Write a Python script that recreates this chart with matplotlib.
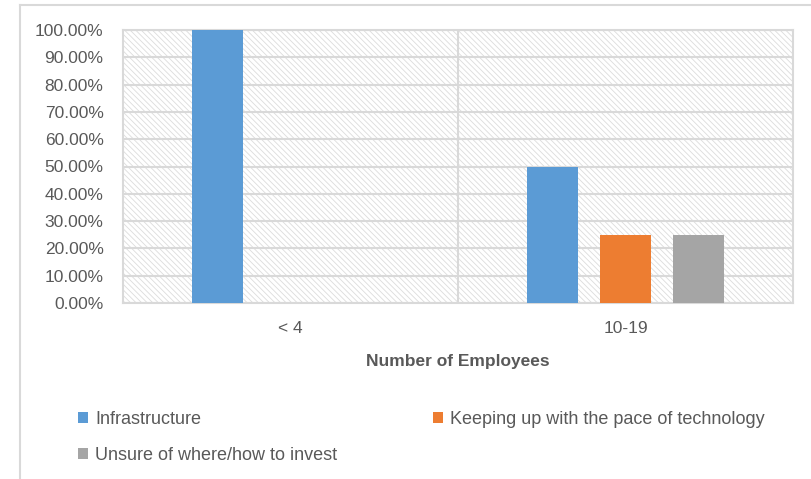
import numpy as np
import matplotlib.pyplot as plt
from matplotlib.patches import Rectangle
from matplotlib.lines import Line2D
from matplotlib.ticker import FixedLocator, FuncFormatter

plt.rcParams['font.family'] = ['Liberation Sans', 'DejaVu Sans']
plt.rcParams['hatch.linewidth'] = 0.6

# data
categories = ['< 4', '10-19']
series_names = ['Infrastructure', 'Keeping up with the pace of technology',
                'Unsure of where/how to invest']
infrastructure = [1.00, 0.50]
keeping_up = [0.00, 0.25]
unsure = [0.00, 0.25]
y_ticks = [0.0, 0.1, 0.2, 0.3, 0.4, 0.5, 0.6, 0.7, 0.8, 0.9, 1.0]

colors = ['#5B9BD5', '#ED7D31', '#A5A5A5']
grid_col = '#d9d9d9'
text_col = '#595959'

W, H = 812, 479
fig = plt.figure(figsize=(W / 100, H / 100), dpi=100)
ax = fig.add_axes([123 / W, 1 - 303 / H, (793 - 123) / W, (303 - 30) / H])

# hatched plot area
ax.add_patch(Rectangle((0, 0), 1, 1, transform=ax.transAxes,
                       facecolor='white', edgecolor='#dcdcdc', hatch='\\' * 6,
                       linewidth=0, zorder=0))

x = np.arange(len(categories))
width = 0.155
offset = 0.218
values = [infrastructure, keeping_up, unsure]
for i, (vals, c) in enumerate(zip(values, colors)):
    ax.bar(x + (i - 1) * offset, vals, width, color=c, zorder=3,
           label=series_names[i])

ax.set_xlim(-0.5, 1.5)
ax.set_ylim(0, 1)
ax.set_xticks(x)
ax.set_xticklabels(categories)
ax.xaxis.set_minor_locator(FixedLocator([0.5]))
ax.set_yticks(y_ticks)
ax.yaxis.set_major_formatter(FuncFormatter(lambda v, p: '{:.2f}%'.format(v * 100)))
ax.grid(axis='y', color=grid_col, linewidth=1.5, zorder=1)
ax.grid(axis='x', which='minor', color=grid_col, linewidth=1.5, zorder=1)
ax.set_axisbelow(True)
ax.tick_params(axis='both', which='both', length=0, colors=text_col,
               labelsize=12.5)
ax.tick_params(axis='x', pad=13)
ax.tick_params(axis='y', pad=14)
for s in ax.spines.values():
    s.set_color(grid_col)
    s.set_linewidth(1.5)

ax.set_xlabel('Number of Employees', fontsize=12.5, fontweight='bold',
              color=text_col, labelpad=13)

# legend, row-major order
handles, labels = ax.get_legend_handles_labels()
order = [0, 2, 1]
fig.legend([handles[k] for k in order], [labels[k] for k in order],
           ncol=2, loc='upper left', bbox_to_anchor=(71 / W, 1 - 404 / H),
           frameon=False, fontsize=13, labelcolor=text_col,
           handlelength=0.55, handleheight=0.55, handletextpad=0.4,
           columnspacing=5.3, labelspacing=1.05, borderaxespad=0)

# outer chart border
fig.add_artist(Line2D([20 / W, 20 / W], [0, 1 - 5 / H], color=grid_col,
                      linewidth=1.5, transform=fig.transFigure))
fig.add_artist(Line2D([20 / W, 1], [1 - 5 / H, 1 - 5 / H], color=grid_col,
                      linewidth=1.5, transform=fig.transFigure))

fig.savefig('out.png', dpi=100)
